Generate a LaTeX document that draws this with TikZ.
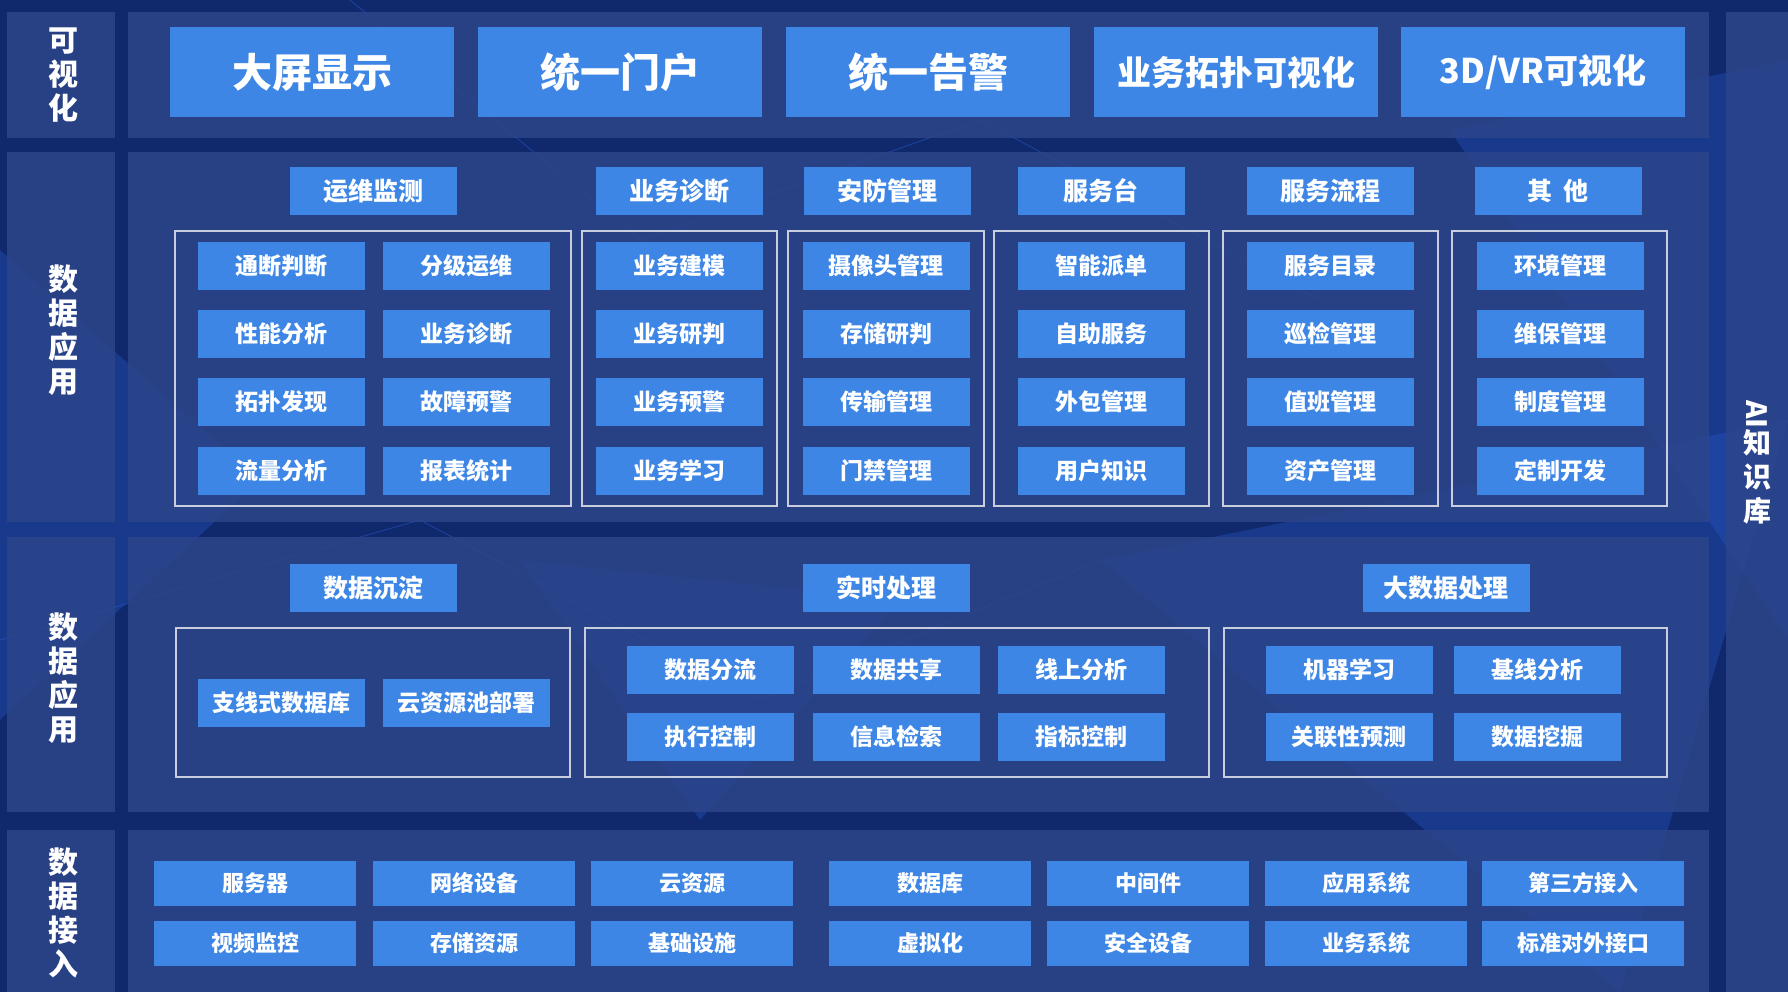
\documentclass[tikz,border=0pt]{standalone}
\usepackage{fontspec}
\newfontfamily\cjk{Noto Sans CJK SC}
\definecolor{bgblue}{RGB}{16,40,108}
\definecolor{panelblue}{RGB}{46,70,138}
\definecolor{boxblue}{RGB}{61,134,230}
\definecolor{grpline}{RGB}{200,206,222}
\definecolor{decoblue}{RGB}{40,90,200}
\begin{document}
\begin{tikzpicture}[x=1pt,y=-1pt,
  box/.style={fill=boxblue,text=white,inner sep=0pt,minimum width=167pt,minimum height=48pt,font=\cjk\bfseries\fontsize{23}{23}\selectfont},
  head/.style={box,font=\cjk\bfseries\fontsize{25}{25}\selectfont},
  topbox/.style={box,minimum width=284pt,minimum height=90pt,font=\cjk\bfseries\fontsize{40}{40}\selectfont},
  srcbox/.style={box,minimum width=202pt,minimum height=45pt,font=\cjk\bfseries\fontsize{22}{22}\selectfont},
  grp/.style={draw=grpline,line width=2pt},
  panel/.style={fill=panelblue,fill opacity=.8},
  deco/.style={fill=decoblue,fill opacity=.35},
  lbl/.style={text=white,align=center,inner sep=0pt,font=\cjk\bfseries\fontsize{30}{34}\selectfont}]
\useasboundingbox (0,0) rectangle (1788,992);
\fill[bgblue] (0,0) rectangle (1788,992);
% background
\fill[deco] (0,250) -- (260,480) -- (0,720) -- cycle;
\fill[deco] (1450,130) -- (1788,60) -- (1788,640) -- cycle;
\fill[deco] (1100,560) -- (1788,420) -- (1620,992) -- cycle;
\fill[deco] (520,560) -- (900,600) -- (700,820) -- cycle;
\draw[decoblue,opacity=.5,line width=1pt] (0,640) -- (420,520) -- (760,700) -- (1100,560) (350,0) -- (640,240) -- (980,120) -- (1320,300);
% panels
\fill[panel] (7,12) rectangle (115,138);
\fill[panel] (7,152) rectangle (115,522);
\fill[panel] (7,537) rectangle (115,812);
\fill[panel] (7,830) rectangle (115,992);
\fill[panel] (128,12) rectangle (1709,138);
\fill[panel] (128,152) rectangle (1709,522);
\fill[panel] (128,537) rectangle (1709,812);
\fill[panel] (128,830) rectangle (1709,992);
\fill[panel] (1726,12) rectangle (1788,992);
% layer labels
\node[lbl] (lvis) at (63,75) {可\\视\\化};
\node[lbl] (lapp) at (63,330) {数\\据\\应\\用};
\node[lbl] (lproc) at (63,678) {数\\据\\应\\用};
\node[lbl] (lin) at (63,913) {数\\据\\接\\入};
\node[lbl,font=\cjk\bfseries\fontsize{28}{34}\selectfont] (lai) at (1757,462) {\rotatebox{-90}{AI}\\知\\识\\库};
% visualisation
\node[topbox] (screen) at (312,72) {大屏显示};
\node[topbox] (portal) at (620,72) {统一门户};
\node[topbox] (alarm) at (928,72) {统一告警};
\node[topbox,font=\cjk\bfseries\fontsize{34}{34}\selectfont] (topo) at (1236,72) {业务拓扑可视化};
\node[topbox,font=\cjk\bfseries\fontsize{34}{34}\selectfont] (vr) at (1543,72) {3D/VR可视化};
% data application
\node[head] (ops) at (373,191) {运维监测};
\node[head] (diag) at (679,191) {业务诊断};
\node[head] (secu) at (887,191) {安防管理};
\node[head] (desk) at (1101,191) {服务台};
\node[head] (proc) at (1330,191) {服务流程};
\node[head] (misc) at (1558,191) {其\ \ 他};
\draw[grp] (175,231) rectangle (571,506);
\draw[grp] (582,231) rectangle (777,506);
\draw[grp] (788,231) rectangle (984,506);
\draw[grp] (994,231) rectangle (1209,506);
\draw[grp] (1223,231) rectangle (1438,506);
\draw[grp] (1452,231) rectangle (1667,506);
\node[box] (o1) at (281,266) {通断判断};
\node[box] (o2) at (466,266) {分级运维};
\node[box] (o3) at (281,334) {性能分析};
\node[box] (o4) at (466,334) {业务诊断};
\node[box] (o5) at (281,402) {拓扑发现};
\node[box] (o6) at (466,402) {故障预警};
\node[box] (o7) at (281,471) {流量分析};
\node[box] (o8) at (466,471) {报表统计};
\node[box] (d1) at (679,266) {业务建模};
\node[box] (d2) at (679,334) {业务研判};
\node[box] (d3) at (679,402) {业务预警};
\node[box] (d4) at (679,471) {业务学习};
\node[box] (s1) at (886,266) {摄像头管理};
\node[box] (s2) at (886,334) {存储研判};
\node[box] (s3) at (886,402) {传输管理};
\node[box] (s4) at (886,471) {门禁管理};
\node[box] (k1) at (1101,266) {智能派单};
\node[box] (k2) at (1101,334) {自助服务};
\node[box] (k3) at (1101,402) {外包管理};
\node[box] (k4) at (1101,471) {用户知识};
\node[box] (p1) at (1330,266) {服务目录};
\node[box] (p2) at (1330,334) {巡检管理};
\node[box] (p3) at (1330,402) {值班管理};
\node[box] (p4) at (1330,471) {资产管理};
\node[box] (m1) at (1560,266) {环境管理};
\node[box] (m2) at (1560,334) {维保管理};
\node[box] (m3) at (1560,402) {制度管理};
\node[box] (m4) at (1560,471) {定制开发};
% data processing
\node[head] (settle) at (373,588) {数据沉淀};
\node[head] (realtime) at (886,588) {实时处理};
\node[head] (bigdata) at (1446,588) {大数据处理};
\draw[grp] (176,628) rectangle (570,777);
\draw[grp] (585,628) rectangle (1209,777);
\draw[grp] (1224,628) rectangle (1667,777);
\node[box] (st1) at (281,703) {支线式数据库};
\node[box] (st2) at (466,703) {云资源池部署};
\node[box] (rt1) at (710,670) {数据分流};
\node[box] (rt2) at (896,670) {数据共享};
\node[box] (rt3) at (1081,670) {线上分析};
\node[box] (rt4) at (710,737) {执行控制};
\node[box] (rt5) at (896,737) {信息检索};
\node[box] (rt6) at (1081,737) {指标控制};
\node[box] (bd1) at (1349,670) {机器学习};
\node[box] (bd2) at (1537,670) {基线分析};
\node[box] (bd3) at (1349,737) {关联性预测};
\node[box] (bd4) at (1537,737) {数据挖掘};
% data access
\node[srcbox] (in1) at (255,883) {服务器};
\node[srcbox] (in2) at (474,883) {网络设备};
\node[srcbox] (in3) at (692,883) {云资源};
\node[srcbox] (in4) at (930,883) {数据库};
\node[srcbox] (in5) at (1148,883) {中间件};
\node[srcbox] (in6) at (1366,883) {应用系统};
\node[srcbox] (in7) at (1583,883) {第三方接入};
\node[srcbox] (in8) at (255,943) {视频监控};
\node[srcbox] (in9) at (474,943) {存储资源};
\node[srcbox] (in10) at (692,943) {基础设施};
\node[srcbox] (in11) at (930,943) {虚拟化};
\node[srcbox] (in12) at (1148,943) {安全设备};
\node[srcbox] (in13) at (1366,943) {业务系统};
\node[srcbox] (in14) at (1583,943) {标准对外接口};
\end{tikzpicture}
\end{document}
